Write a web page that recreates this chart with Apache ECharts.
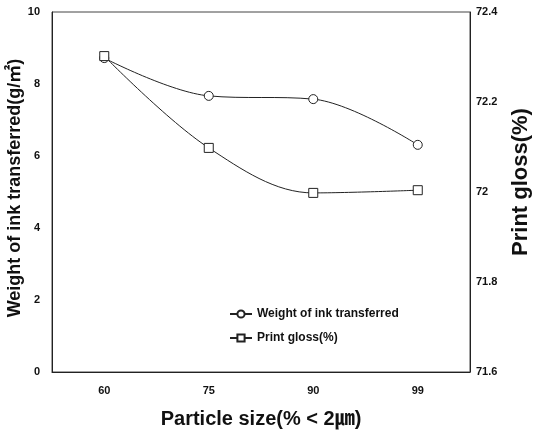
<!DOCTYPE html>
<html>
<head>
<meta charset="utf-8">
<script src="https://cdn.jsdelivr.net/npm/echarts@6/dist/echarts.min.js"></script>
<style>
  html, body { margin: 0; padding: 0; background: #fff; }
  #chart { width: 536px; height: 440px; }
</style>
</head>
<body>
<div id="chart"></div>
<script>
const categories = ["60", "75", "90", "99"];
const inkWeight = [8.72, 7.67, 7.58, 6.31];
const printGloss = [72.302, 72.098, 71.998, 72.004];

const font = "'Liberation Sans', Arial, 'Noto Sans CJK SC', sans-serif";

const myChart = echarts.init(document.getElementById("chart"));

const option = {
  backgroundColor: "#fff",
  animation: false,
  textStyle: { fontFamily: font },
  grid: {
    left: 52,
    right: 66,
    top: 12,
    bottom: 68,
    outerBoundsMode: "none",
    containLabel: false,
    show: true,
    borderColor: "#444",
    borderWidth: 1
  },
  legend: {
    orient: "vertical",
    left: 224,
    top: 303,
    itemGap: 12,
    itemWidth: 22,
    itemHeight: 9,
    textStyle: { fontFamily: font, fontSize: 12, fontWeight: "bold", color: "#111" },
    data: ["Weight of ink transferred", "Print gloss(%)"]
  },
  xAxis: {
    type: "category",
    data: categories,
    boundaryGap: true,
    axisLine: { lineStyle: { color: "#222" } },
    axisTick: { show: false },
    axisLabel: { fontFamily: font, fontSize: 11, fontWeight: "bold", color: "#111", margin: 13 },
    name: "Particle size(% < 2㎛)",
    nameLocation: "middle",
    nameGap: 37,
    nameMoveOverlap: false,
    nameTextStyle: { fontFamily: font, fontSize: 20, fontWeight: "bold", color: "#111" }
  },
  yAxis: [
    {
      type: "value",
      min: 0,
      max: 10,
      interval: 2,
      splitLine: { show: false },
      axisLine: { show: true, lineStyle: { color: "#222" } },
      axisTick: { show: false },
      axisLabel: { fontFamily: font, fontSize: 11, fontWeight: "bold", color: "#111", margin: 12 },
      name: "Weight of ink transferred(g/㎡)",
      nameLocation: "middle",
      nameGap: 28,
      nameMoveOverlap: false,
      nameRotate: 90,
      nameTextStyle: { fontFamily: font, fontSize: 18, fontWeight: "bold", color: "#111", padding: [0, 0, 0, 8] }
    },
    {
      type: "value",
      min: 71.6,
      max: 72.4,
      interval: 0.2,
      splitLine: { show: false },
      axisLine: { show: true, lineStyle: { color: "#222" } },
      axisTick: { show: false },
      axisLabel: {
        fontFamily: font, fontSize: 11, fontWeight: "bold", color: "#111", margin: 6,
        formatter: function (v) { return String(Math.round(v * 10) / 10); }
      },
      name: "Print gloss(%)",
      nameLocation: "middle",
      nameGap: 40,
      nameMoveOverlap: false,
      nameRotate: 90,
      nameTextStyle: { fontFamily: font, fontSize: 22, fontWeight: "bold", color: "#111", padding: [0, 0, 0, 20] }
    }
  ],
  series: [
    {
      name: "Weight of ink transferred",
      type: "line",
      yAxisIndex: 0,
      data: inkWeight,
      smooth: 0.35,
      symbol: "circle",
      symbolSize: 9,
      lineStyle: { color: "#222", width: 1 },
      itemStyle: { color: "#fff", borderColor: "#222", borderWidth: 1 }
    },
    {
      name: "Print gloss(%)",
      type: "line",
      yAxisIndex: 1,
      data: printGloss,
      smooth: 0.35,
      symbol: "rect",
      symbolSize: 9,
      lineStyle: { color: "#222", width: 1 },
      itemStyle: { color: "#fff", borderColor: "#222", borderWidth: 1 }
    }
  ]
};

myChart.setOption(option);
</script>
</body>
</html>
